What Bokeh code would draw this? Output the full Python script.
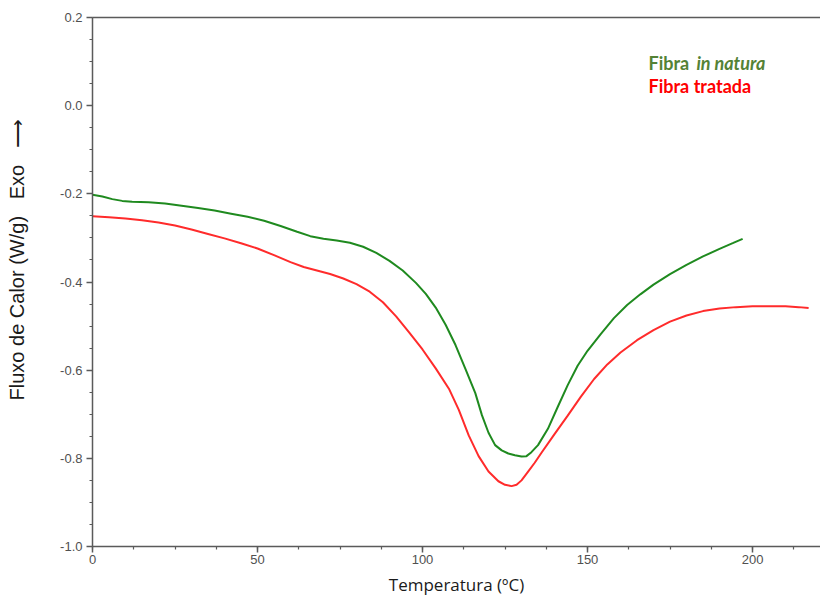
from bokeh.plotting import figure
from bokeh.models import (Range1d, SingleIntervalTicker, LinearAxis, PrintfTickFormatter,
                          Label, FixedTicker)
from bokeh.embed import file_html
from bokeh.resources import INLINE

# Fibra in natura (green)
t_natura = [0, 3, 6, 9, 12, 17, 22, 27, 32, 37, 42, 47, 52, 57, 62, 66, 70, 74, 78, 82,
            86, 90, 94, 98, 101, 104, 107, 110, 113, 116, 118, 120, 122, 124, 126, 128,
            130, 131.5, 133, 135, 138, 141, 144, 147, 150, 154, 158, 162, 166, 170, 175,
            180, 185, 190, 194, 197]
v_natura = [-0.202, -0.206, -0.212, -0.216, -0.218, -0.219, -0.222, -0.227, -0.232,
            -0.238, -0.245, -0.252, -0.261, -0.273, -0.286, -0.296, -0.302, -0.306,
            -0.311, -0.320, -0.334, -0.352, -0.374, -0.402, -0.427, -0.458, -0.497,
            -0.543, -0.597, -0.652, -0.702, -0.742, -0.770, -0.782, -0.789, -0.793,
            -0.796, -0.795, -0.786, -0.770, -0.733, -0.683, -0.634, -0.590, -0.556,
            -0.518, -0.482, -0.452, -0.428, -0.406, -0.382, -0.361, -0.342, -0.325,
            -0.312, -0.302]

# Fibra tratada (red)
t_tratada = [0, 5, 10, 15, 20, 25, 30, 35, 40, 45, 50, 55, 60, 64, 68, 72, 76, 80, 84,
             88, 92, 96, 100, 104, 108, 111, 114, 117, 120, 123, 125, 127, 128.5, 130,
             132, 134, 136, 140, 144, 148, 152, 156, 160, 165, 170, 175, 180, 185, 190,
             195, 200, 205, 210, 214, 217]
v_tratada = [-0.251, -0.253, -0.256, -0.260, -0.265, -0.272, -0.281, -0.291, -0.301,
             -0.312, -0.324, -0.339, -0.355, -0.366, -0.374, -0.382, -0.392, -0.405,
             -0.422, -0.446, -0.478, -0.515, -0.553, -0.596, -0.642, -0.690, -0.748,
             -0.795, -0.830, -0.852, -0.860, -0.863, -0.860, -0.850, -0.830, -0.810,
             -0.788, -0.745, -0.703, -0.660, -0.620, -0.587, -0.560, -0.532, -0.509,
             -0.490, -0.476, -0.466, -0.460, -0.457, -0.455, -0.455, -0.455, -0.457,
             -0.459]

x_label = "Temperatura (ºC)"
NB = "\u00a0"
y_label = NB * 8 + "Fluxo de Calor (W/g)" + NB * 3 + "Exo" + NB * 3 + "\u27f6"

GREEN_LINE = "#1f8a1f"
RED_LINE = "#ff2b2b"
GREEN_TEXT = "#548235"
RED_TEXT = "#ff0000"
AXIS = "#5a5a5a"
TICK_TEXT = "#505050"

p = figure(width=820, height=598, output_backend="svg", toolbar_location=None,
           x_range=Range1d(0, 220.6), y_range=Range1d(-1.0, 0.2),
           min_border_left=92, min_border_right=0, min_border_top=17,
           min_border_bottom=52, x_axis_location="below", y_axis_location="left")
p.outline_line_color = None
p.grid.visible = False
p.background_fill_color = "white"
p.border_fill_color = "white"

p.line(t_natura, v_natura, line_color=GREEN_LINE, line_width=2)
p.line(t_tratada, v_tratada, line_color=RED_LINE, line_width=2)

xa = p.xaxis[0]
xa.ticker = SingleIntervalTicker(interval=50, num_minor_ticks=4)
ya = p.yaxis[0]
ya.ticker = SingleIntervalTicker(interval=0.2, num_minor_ticks=4)
ya.formatter = PrintfTickFormatter(format="%.1f")

for ax in (xa, ya):
    ax.axis_line_color = AXIS
    ax.axis_line_width = 1.5
    ax.major_tick_line_color = AXIS
    ax.major_tick_line_width = 1.5
    ax.minor_tick_line_color = AXIS
    ax.minor_tick_line_width = 1.2
    ax.major_tick_out = 6
    ax.major_tick_in = 0
    ax.minor_tick_out = 3
    ax.minor_tick_in = 0
    ax.major_label_text_font = "Liberation Sans"
    ax.major_label_text_font_size = "13px"
    ax.major_label_text_color = TICK_TEXT
    ax.axis_label_text_font_style = "normal"
    ax.axis_label_text_color = "#1a1a1a"

xa.major_label_standoff = 2
xa.axis_label = x_label
xa.axis_label_standoff = 6
xa.axis_label_text_font = "Open Sans"
xa.axis_label_text_font_size = "17px"
ya.major_label_standoff = 4
ya.axis_label = y_label
ya.axis_label_standoff = 29
ya.axis_label_text_font = "Liberation Sans"
ya.axis_label_text_font_size = "20px"

top = LinearAxis(ticker=FixedTicker(ticks=[]), axis_line_color=AXIS, axis_line_width=1.5,
                 major_tick_line_color=None, minor_tick_line_color=None,
                 major_label_text_font_size="0px", major_label_standoff=0)
p.add_layout(top, "above")

p.add_layout(Label(x=168.5, y=0.0975, text="Fibra", text_font="Lato",
                   text_font_style="bold", text_font_size="18px", text_color=GREEN_TEXT,
                   text_baseline="middle", text_align="left"))
p.add_layout(Label(x=183.0, y=0.0975, text="in natura", text_font="Lato",
                   text_font_style="bold italic", text_font_size="18px",
                   text_color=GREEN_TEXT, text_baseline="middle", text_align="left"))
p.add_layout(Label(x=168.5, y=0.045, text="Fibra tratada", text_font="Lato",
                   text_font_style="bold", text_font_size="18px", text_color=RED_TEXT,
                   text_baseline="middle", text_align="left"))

open("out.html", "w").write(file_html(p, INLINE))
